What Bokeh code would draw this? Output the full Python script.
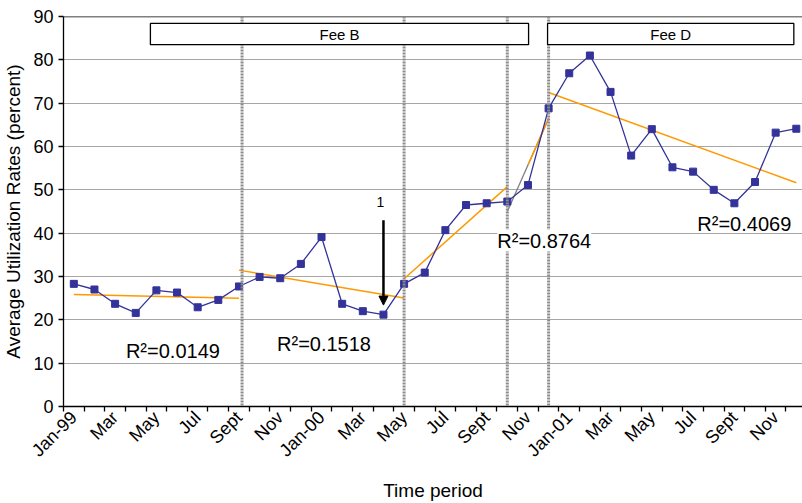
import math
import numpy as np
from bokeh.plotting import figure
from bokeh.models import (FixedTicker, Span, Label, Arrow, NormalHead, BoxAnnotation,
                          ColumnDataSource, Range1d)
from bokeh.embed import file_html
from bokeh.resources import INLINE

# ---------------- data ----------------
months = ["Jan-99", "Feb-99", "Mar-99", "Apr-99", "May-99", "Jun-99", "Jul-99", "Aug-99",
          "Sep-99", "Oct-99", "Nov-99", "Dec-99", "Jan-00", "Feb-00", "Mar-00", "Apr-00",
          "May-00", "Jun-00", "Jul-00", "Aug-00", "Sep-00", "Oct-00", "Nov-00", "Dec-00",
          "Jan-01", "Feb-01", "Mar-01", "Apr-01", "May-01", "Jun-01", "Jul-01", "Aug-01",
          "Sep-01", "Oct-01", "Nov-01", "Dec-01"]
utilization = [28.3, 27.0, 23.7, 21.6, 26.8, 26.3, 22.9, 24.6, 27.7, 29.9, 29.6, 32.9,
               39.1, 23.7, 22.0, 21.2, 28.3, 30.9, 40.7, 46.5, 46.9, 47.3, 51.1, 68.8,
               76.9, 81.0, 72.6, 57.9, 64.0, 55.2, 54.2, 50.0, 46.9, 51.8, 63.2, 64.1]
tick_labels = ["Jan-99", "Mar", "May", "Jul", "Sept", "Nov", "Jan-00", "Mar", "May",
               "Jul", "Sept", "Nov", "Jan-01", "Mar", "May", "Jul", "Sept", "Nov"]
# fee periods (start month index, end month index) used for the trend lines
period_start = [0, 8, 16, 21, 23]
period_end = [8, 16, 21, 23, 35]
r2_labels = ["R\u00b2=0.0149", "R\u00b2=0.1518", "R\u00b2=0.8764", "R\u00b2=0.4069"]
fee_change = [8.15, 16, 21, 23]
fee_names = ["Fee B", "Fee D"]

FONT = "Liberation Sans"
BLUE = "#333399"
ORANGE = "#FF9900"

x = list(range(len(months)))
src = ColumnDataSource(dict(x=x, y=utilization, m=months))

p = figure(width=802, height=503, output_backend="svg", toolbar_location=None,
           x_range=Range1d(-0.5, 35.3), y_range=Range1d(0, 90),
           min_border_left=62, min_border_right=0, min_border_top=16, min_border_bottom=94)
p.outline_line_color = None
p.background_fill_color = "white"

# grid
p.xgrid.grid_line_color = None
p.ygrid.grid_line_color = "#a6a6a6"
p.ygrid.grid_line_width = 1
p.ygrid.ticker = FixedTicker(ticks=list(range(10, 91, 10)))
p.add_layout(Span(location=90, dimension="width", line_color="black", line_width=1.5))

# trend lines (least squares per period)
for k, (a, b) in enumerate(zip(period_start, period_end)):
    xs = np.arange(a, b + 1)
    ys = np.array(utilization[a:b + 1])
    slope, icpt = np.polyfit(xs, ys, 1)
    if k == 3:
        p.line([a, b], [icpt + slope * a, icpt + slope * b], line_color="#808080", line_width=1.3)
        p.line([a + 1, b], [icpt + slope * (a + 1), icpt + slope * b], line_color=ORANGE, line_width=1.5)
    else:
        p.line([a, b], [icpt + slope * a, icpt + slope * b], line_color=ORANGE, line_width=1.5)

# series
p.line("x", "y", source=src, line_color=BLUE, line_width=1.3)
p.scatter("x", "y", source=src, marker="square", size=7, fill_color=BLUE, line_color=BLUE)

# fee change dotted lines
for loc in fee_change:
    p.add_layout(Span(location=loc, dimension="height", line_color="#8c8c8c",
                      line_width=3, line_dash="2 1"))

# fee boxes
boxes = [(3.71, 22.03), (22.95, 34.88)]
for (l, r), name in zip(boxes, fee_names):
    p.add_layout(BoxAnnotation(left=l, right=r, bottom=83.5, top=88.4,
                               fill_color="white", fill_alpha=1.0,
                               line_color="black", line_alpha=1.0, line_width=1.3))
    p.add_layout(Label(x=(l + r) / 2, y=85.95, text=name, text_align="center",
                       text_baseline="middle", text_font=FONT, text_font_size="15px",
                       text_color="black"))

# R^2 labels
r2_pos = [(4.8, 12.7), (12.12, 14.5), (22.79, 38.3), (32.48, 42.1)]
for (lx, ly), t in zip(r2_pos, r2_labels):
    kw = {}
    if t.endswith("8764"):
        kw = dict(background_fill_color="white", background_fill_alpha=1.0)
    p.add_layout(Label(x=lx, y=ly, text=t, text_align="center", text_baseline="alphabetic",
                       text_font=FONT, text_font_size="20px", text_color="black", **kw))

# arrow annotation
p.add_layout(Arrow(end=NormalHead(size=9, fill_color="black", line_color="black"),
                   x_start=15, y_start=43.0, x_end=15, y_end=23.4,
                   line_color="black", line_width=2.5))
p.add_layout(Label(x=14.85, y=46.0, text="1", text_align="center", text_font=FONT,
                   text_font_size="14px", text_color="black"))

# axes
even = list(range(0, 36, 2))
p.xaxis.ticker = FixedTicker(ticks=even, minor_ticks=[i - 0.5 for i in range(37)])
p.xaxis.major_label_overrides = {i: lab for i, lab in zip(even, tick_labels)}
p.xaxis.major_label_orientation = math.pi / 4
p.xaxis.major_label_standoff = 2
p.xaxis.major_tick_line_color = None
p.xaxis.minor_tick_line_color = "black"
p.xaxis.minor_tick_in = 0
p.xaxis.minor_tick_out = 5
p.xaxis.axis_label = "Time period"
p.xaxis.axis_label_standoff = 9

p.yaxis.ticker = FixedTicker(ticks=list(range(0, 91, 10)))
p.yaxis.major_tick_in = 0
p.yaxis.major_tick_out = 5
p.yaxis.minor_tick_line_color = None
p.yaxis.axis_label = "Average Utilization Rates (percent)"
p.yaxis.axis_label_standoff = 6

for ax in (p.xaxis[0], p.yaxis[0]):
    ax.axis_line_color = "black"
    ax.axis_line_width = 1.3
    ax.major_tick_line_width = 1.3
    ax.minor_tick_line_width = 1.3
    ax.major_label_text_font = FONT
    ax.major_label_text_color = "black"
    ax.axis_label_text_font = FONT
    ax.axis_label_text_font_style = "normal"
    ax.axis_label_text_font_size = "19px"
    ax.axis_label_text_color = "black"
p.xaxis.major_label_text_font_size = "18px"
p.yaxis.major_label_text_font_size = "18px"

open("out.html", "w").write(file_html(p, INLINE))
